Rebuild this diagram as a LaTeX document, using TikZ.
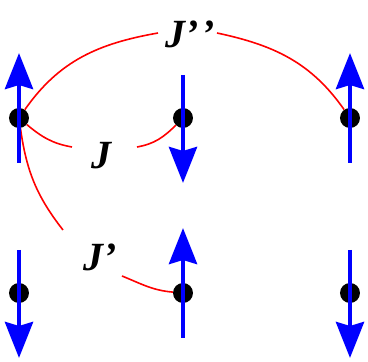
\documentclass[tikz,border=0pt]{standalone}
\usepackage{fontspec}
\setmainfont{Liberation Serif}
\usetikzlibrary{arrows.meta,calc}
\begin{document}
\begin{tikzpicture}[x=1pt,y=1pt,
      site/.style={circle, fill=black, inner sep=0pt, minimum size=20pt},
      lbl/.style={inner sep=0pt, font=\fontsize{40}{40}\selectfont\bfseries\itshape},
      bond/.style={draw=red, line width=1.6pt},
      spin/.style={draw=blue, line width=4.5pt, -{Stealth[length=36pt,width=28pt,inset=4pt]}}]
    \useasboundingbox (0,0) rectangle (368,362);
    % sites
    \node[site] (tl) at (19,244) {};
    \node[site] (tm) at (183,244) {};
    \node[site] (tr) at (350,244) {};
    \node[site] (bl) at (19,69) {};
    \node[site] (bm) at (183,69) {};
    \node[site] (br) at (350,69) {};
    % couplings
    \node[lbl] (jpp) at (190,328) {J’\kern3pt’};
    \node[lbl] (j)   at (102,206) {J};
    \node[lbl] (jp)  at (100,105) {J’};
    \coordinate (jppl) at (158,329);
    \coordinate (jppr) at (217,329);
    \coordinate (jl)   at (72,215);
    \coordinate (jr)   at (137,215);
    \coordinate (jpu)  at (63,132);
    \coordinate (jpl)  at (122,86);
    \draw[bond] (tl) to[out=55,in=190] (jppl);
    \draw[bond] (jppr) to[out=-12,in=125] (tr);
    \draw[bond] (tl) to[out=-40,in=170] (jl);
    \draw[bond] (jr) to[out=10,in=225] (tm);
    \draw[bond] (tl) to[out=-82,in=128] (jpu);
    \draw[bond] (jpl) to[out=-22,in=175] (bm);
    % spins
    \draw[spin] ($(tl)+(0,-45)$) -- ($(tl)+(0,65)$);
    \draw[spin] ($(tm)+(0,43)$) -- ($(tm)+(0,-65)$);
    \draw[spin] ($(tr)+(0,-45)$) -- ($(tr)+(0,65)$);
    \draw[spin] ($(bl)+(0,43)$) -- ($(bl)+(0,-65)$);
    \draw[spin] ($(bm)+(0,-45)$) -- ($(bm)+(0,65)$);
    \draw[spin] ($(br)+(0,43)$) -- ($(br)+(0,-65)$);
\end{tikzpicture}
\end{document}
